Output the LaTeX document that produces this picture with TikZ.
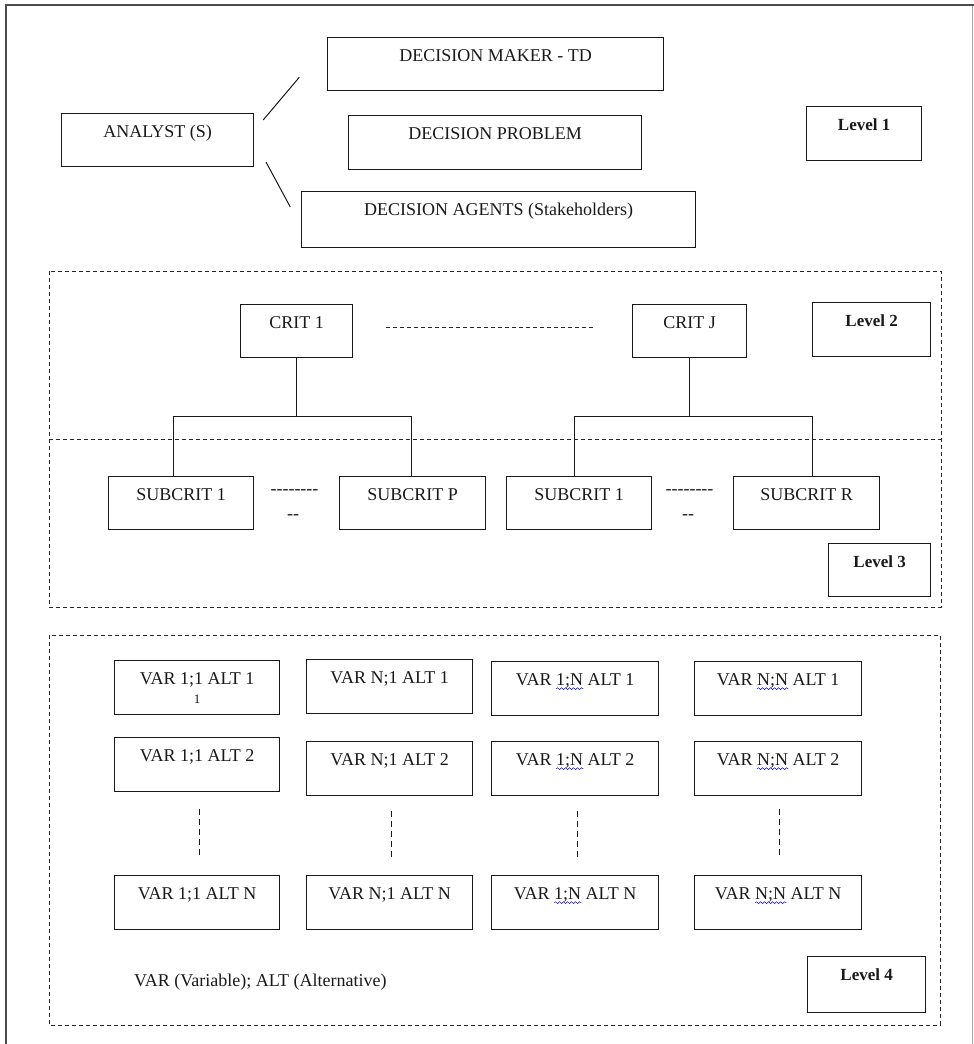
\documentclass[tikz,border=0pt]{standalone}
\usepackage{fontspec}
\setmainfont{Liberation Serif}
\usetikzlibrary{calc,decorations.pathmorphing}

% word with a blue wavy spell-check underline
\newcommand\spellwave[1]{\setbox0\hbox{#1}\rlap{\tikz[baseline=0pt]\draw[blue!85!black, line width=0.5pt, decorate, decoration={snake, amplitude=0.9pt, segment length=4pt}] (0pt,-3pt) -- (\the\wd0,-3pt);}\box0\relax}

\begin{document}
\begin{tikzpicture}[x=1pt, y=-1pt,
  txt/.style={font=\fontsize{18}{21}\selectfont, text=black!90},
  bx/.style={draw=black!90, line width=1.3pt, anchor=north west, inner xsep=0pt, inner ysep=0pt, text height=24pt, text depth=30pt, txt},
  lvl/.style={bx, font=\fontsize{17}{20}\selectfont\bfseries},
  grp/.style={draw=black!85, line width=1pt, dash pattern=on 4pt off 3pt},
  link/.style={draw=black!90, line width=1pt},
  dots/.style={draw=black!90, line width=1pt, dash pattern=on 6pt off 4pt}]

\useasboundingbox (0,0) rectangle (974,1044);

% page frame
\draw[line width=2pt, black!70] (5.5,1044) -- (5.5,4.5) -- (974,4.5);
\draw[line width=1.2pt, black!35] (972.8,5.5) -- (972.8,1044);

% ---------- level 1 ----------
\node[bx, minimum width=336pt, text depth=29pt] (dm) at (327,37) {DECISION MAKER - TD};
\node[bx, minimum width=192pt, text depth=29pt] (an) at (61,113) {ANALYST (S)};
\node[bx, minimum width=293pt] (dp) at (348,115) {DECISION PROBLEM};
\node[bx, minimum width=394pt, text depth=32pt] (ag) at (301,191) {DECISION AGENTS (Stakeholders)};
\node[lvl, minimum width=115pt] (l1) at (806,106) {Level 1};

\draw[link, shorten <=13.8pt, shorten >=42.9pt] ([yshift=-17.5pt]an.north east) -- ([yshift=-7.5pt]dm.north west);
\draw[link, shorten <=24.7pt, shorten >=22.6pt] ([yshift=-27.4pt]an.north east) -- ([yshift=-35.8pt]ag.north west);

% ---------- levels 2 and 3 ----------
\draw[grp] (49,271) rectangle (941,607);
\draw[grp] (49,439) -- (941,439);

\node[bx, minimum width=112pt, text depth=29pt] (c1) at (240,304) {CRIT 1};
\node[bx, minimum width=114pt, text depth=29pt] (cj) at (632,304) {CRIT J};
\node[lvl, minimum width=118pt] (l2) at (812,302) {Level 2};
\draw[grp] ([shift={(33,-3.5)}]c1.east) -- ([shift={(-36,-3.5)}]cj.west);

\node[bx, minimum width=145pt, text depth=29pt] (s1) at (108,476) {SUBCRIT 1};
\node[bx, minimum width=146pt, text depth=29pt] (sp) at (339,476) {SUBCRIT P};
\node[bx, minimum width=145pt, text depth=29pt] (s2) at (506,476) {SUBCRIT 1};
\node[bx, minimum width=146pt, text depth=29pt] (sr) at (733,476) {SUBCRIT R};
\node[lvl, minimum width=102pt, text depth=29pt] (l3) at (828,543) {Level 3};

\node[txt, inner sep=0pt] (h1a) at (294.5,492) {-{}-{}-{}-{}-{}-{}-{}-};
\node[txt, inner sep=0pt] (h1b) at (293,517) {-{}-};
\node[txt, inner sep=0pt] (h2a) at (689.5,492) {-{}-{}-{}-{}-{}-{}-{}-};
\node[txt, inner sep=0pt] (h2b) at (688,517) {-{}-};

% criterion trees
\coordinate (j1l) at (173,416);
\coordinate (j1r) at (411,416);
\draw[link] (c1.south) -- (c1.south |- j1l);
\draw[link] (j1l |- s1.north) -- (j1l) -- (j1r) -- (j1r |- sp.north);
\coordinate (j2l) at (574,416);
\coordinate (j2r) at (812,416);
\draw[link] (cj.south) -- (cj.south |- j2l);
\draw[link] (j2l |- s2.north) -- (j2l) -- (j2r) -- (j2r |- sr.north);

% ---------- level 4 ----------
\draw[grp] (49,635) rectangle (940,1025);

\node[bx, minimum width=165pt] (a11) at (114,660) {VAR 1;1 ALT 1};
\node[font=\fontsize{13}{14}\selectfont, text=black!90, inner sep=0pt] (a11n) at (197,699) {1};
\node[bx, minimum width=166pt] (a21) at (306,659) {VAR N;1 ALT 1};
\node[bx, minimum width=167pt] (a31) at (491,661) {VAR \spellwave{1;N} ALT 1};
\node[bx, minimum width=167pt] (a41) at (694,661) {VAR \spellwave{N;N} ALT 1};

\node[bx, minimum width=165pt] (a12) at (114,737) {VAR 1;1 ALT 2};
\node[bx, minimum width=166pt] (a22) at (306,741) {VAR N;1 ALT 2};
\node[bx, minimum width=167pt] (a32) at (491,741) {VAR \spellwave{1;N} ALT 2};
\node[bx, minimum width=167pt] (a42) at (694,741) {VAR \spellwave{N;N} ALT 2};

\node[bx, minimum width=165pt] (a13) at (114,875) {VAR 1;1 ALT N};
\node[bx, minimum width=166pt] (a23) at (306,875) {VAR N;1 ALT N};
\node[bx, minimum width=167pt] (a33) at (491,875) {VAR \spellwave{1;N} ALT N};
\node[bx, minimum width=167pt] (a43) at (694,875) {VAR \spellwave{N;N} ALT N};

\draw[dots, shorten <=17pt, shorten >=19pt] ([xshift=2.5pt]a12.south) -- ([xshift=2.5pt]a13.north);
\draw[dots, shorten <=15pt, shorten >=15pt] ([xshift=2pt]a22.south) -- ([xshift=2pt]a23.north);
\draw[dots, shorten <=15pt, shorten >=15pt] ([xshift=2.5pt]a32.south) -- ([xshift=2.5pt]a33.north);
\draw[dots, shorten <=13pt, shorten >=19pt] ([xshift=1.5pt]a42.south) -- ([xshift=1.5pt]a43.north);

\node[txt, anchor=west, inner sep=0pt] (key) at (134,982) {VAR (Variable); ALT (Alternative)};
\node[lvl, minimum width=118pt, text depth=32pt] (l4) at (807,956) {Level 4};

\end{tikzpicture}
\end{document}
